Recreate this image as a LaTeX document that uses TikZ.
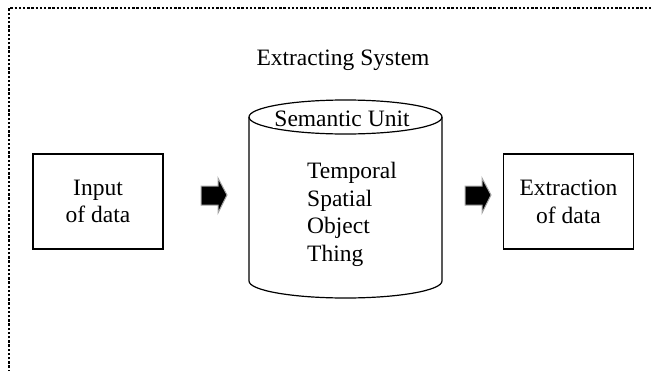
\documentclass[tikz,border=0pt]{standalone}
\usepackage{fontspec}
\setmainfont{Liberation Serif}
\begin{document}
\begin{tikzpicture}[x=1pt,y=-1pt,
  txt/.style={font=\fontsize{23.5}{27.7}\selectfont, inner sep=0pt},
  box/.style={draw, line width=1.2pt, minimum width=130pt, minimum height=95pt, align=center, font=\fontsize{23.5}{27.7}\selectfont},
  blockarrow/.style={fill=black, draw=gray!70, line width=1pt},
  frame/.style={line width=2.4pt, dash pattern=on 2.4pt off 1.8pt}]
\useasboundingbox (0,0) rectangle (651,370);
% dotted frame (cropped)
\draw[frame] (9,372) -- (9,8) -- (653,8);
% title
\node[txt] (title) at (343,60) {Extracting System};
% boxes
\node[box] (input) at (98,201.5) {Input\\of data};
\node[box] (extract) at (568.5,201.5) {Extraction\\of data};
% cylinder
\coordinate (cyl) at (345.5,199);
\draw[line width=1.2pt] (249,117) -- (249,281) arc[start angle=180, end angle=0, x radius=96.5, y radius=17] -- (442,117);
\draw[line width=1.2pt] (345.5,117) ellipse[x radius=96.5, y radius=17];
\node[txt, fill=white, inner sep=1.5pt] (unit) at (342,119) {Semantic Unit};
\node[txt, align=left, anchor=north west] (items) at (307,162) {Temporal\\Spatial\\Object\\Thing};
% block arrows
\draw[blockarrow] (201,186) -- (218,186) -- (218,178) -- (227,195) -- (218,213) -- (218,205) -- (201,205) -- cycle;
\draw[blockarrow] (465,186) -- (482,186) -- (482,178) -- (491,195) -- (482,213) -- (482,205) -- (465,205) -- cycle;
\end{tikzpicture}
\end{document}
